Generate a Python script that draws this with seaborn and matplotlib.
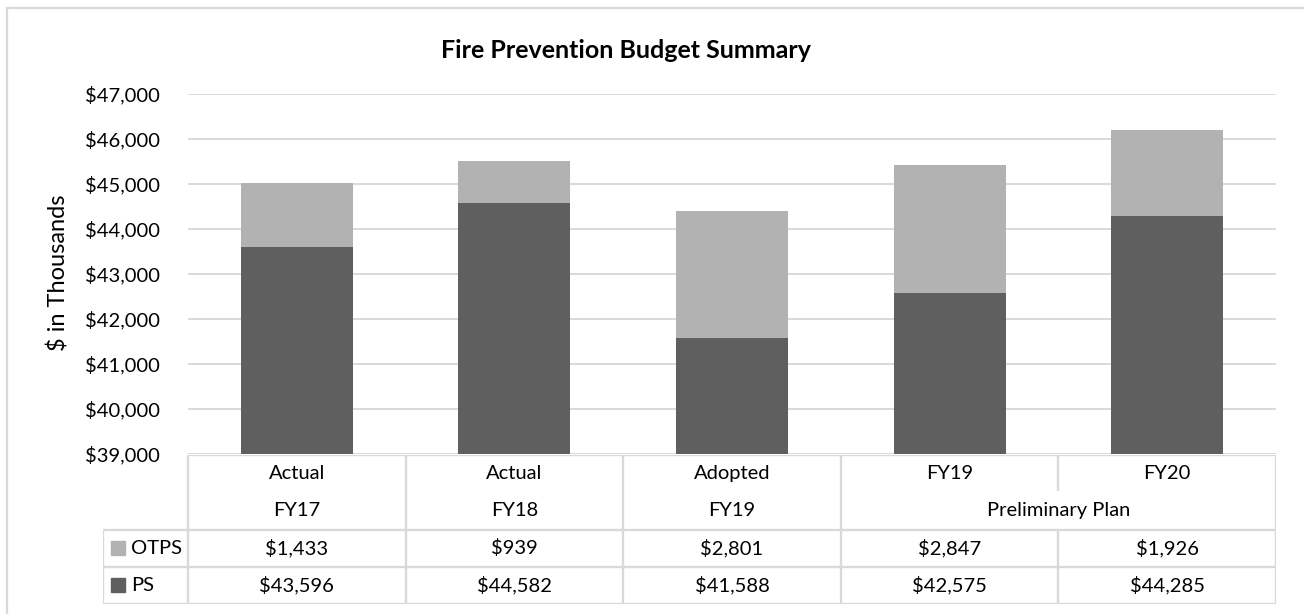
import matplotlib
matplotlib.use("Agg")
import matplotlib.pyplot as plt
import seaborn as sns
import pandas as pd
from matplotlib.patches import Rectangle

# ---- data ----
header_line1 = ["Actual", "Actual", "Adopted", "FY19", "FY20"]
header_line2 = ["FY17", "FY18", "FY19", "", ""]
span_label = "Preliminary Plan"
categories = ["Actual FY17", "Actual FY18", "Adopted FY19", "Plan FY19", "Plan FY20"]
otps = [1433, 939, 2801, 2847, 1926]
ps = [43596, 44582, 41588, 42575, 44285]
series_names = ["OTPS", "PS"]
y_ticks = [39000, 40000, 41000, 42000, 43000, 44000, 45000, 46000, 47000]

title = "Fire Prevention Budget Summary"
ylabel = "$ in Thousands"

# ---- style ----
sns.set_theme(style="white")
plt.rcParams['font.family'] = ['Lato', 'DejaVu Sans']
DARK = "#5f5f5f"
LIGHT = "#b2b2b2"
GRID = "#d9d9d9"
FS = 14.5

W, H = 1304, 614
fig = plt.figure(figsize=(W / 100, H / 100), dpi=100)

def px_axes(x0, y0, x1, y1):
    return fig.add_axes([x0 / W, 1 - y1 / H, (x1 - x0) / W, (y1 - y0) / H])

df = pd.DataFrame({"cat": categories, "ps": ps, "otps": otps})
df["total"] = df["ps"] + df["otps"]

ax = px_axes(188, 94, 1276, 454)
sns.barplot(data=df, x="cat", y="total", color=LIGHT, width=0.515, ax=ax,
            saturation=1, edgecolor="none", zorder=2)
sns.barplot(data=df, x="cat", y="ps", color=DARK, width=0.515, ax=ax,
            saturation=1, edgecolor="none", zorder=3)
ax.set_xlim(-0.5, len(categories) - 0.5)
ax.set_ylim(y_ticks[0], y_ticks[-1])
ax.set_yticks(y_ticks)
ax.set_yticklabels([f"${v:,.0f}" for v in y_ticks], fontsize=FS, color="black")
ax.tick_params(axis="y", length=0, pad=20)
ax.set_xticks([])
ax.set_xlabel("")
ax.set_ylabel("")
for s in ax.spines.values():
    s.set_visible(False)
ax.yaxis.grid(True, color=GRID, linewidth=1.4, zorder=0)
ax.set_axisbelow(True)

fig.text(58 / W, 1 - 273 / H, ylabel, rotation=90, ha="center", va="center",
         fontsize=17, color="black")
fig.text(626 / W, 1 - 50 / H, title, ha="center", va="center",
         fontsize=18, fontweight="bold", color="black")

# ---- data table ----
n = len(categories)
cw = 217.6
left_extra = (188 - 103) / cw
tx = px_axes(103, 455, 1276, 604)
tx.set_xlim(-0.5 - left_extra, n - 0.5)
tx.set_ylim(4, 0)
tx.axis("off")
lk = dict(color=GRID, linewidth=1.7, solid_capstyle="butt")
xl = -0.5 - left_extra
tx.plot([-0.5, n - 0.5], [0, 0], **lk)
for yy in (2, 3, 4):
    tx.plot([xl, n - 0.5], [yy, yy], **lk)
tx.plot([xl, xl], [2, 4], **lk)
for i in range(n + 1):
    xx = i - 0.5
    if i == 4:
        tx.plot([xx, xx], [0, 0.97], **lk)
        tx.plot([xx, xx], [2, 4], **lk)
    else:
        tx.plot([xx, xx], [0, 4], **lk)

for i in range(n):
    tx.text(i, 0.5, header_line1[i], ha="center", va="center", fontsize=FS, color="black")
    if header_line2[i]:
        tx.text(i, 1.5, header_line2[i], ha="center", va="center", fontsize=FS, color="black")
    tx.text(i, 2.5, f"${otps[i]:,}", ha="center", va="center", fontsize=FS, color="black")
    tx.text(i, 3.5, f"${ps[i]:,}", ha="center", va="center", fontsize=FS, color="black")
tx.text(3.5, 1.5, span_label, ha="center", va="center", fontsize=FS, color="black")

for row, name, col in ((2.5, series_names[0], LIGHT), (3.5, series_names[1], DARK)):
    tx.plot([xl + 15 / cw], [row], marker="s", markersize=10, color=col, linestyle="none")
    tx.text(xl + 28 / cw, row, name, ha="left", va="center", fontsize=FS, color="black")

# outer chart border
fig.patches.append(Rectangle((7 / W, -0.1), 1.2, 1 - 8 / H + 0.1, transform=fig.transFigure,
                             fill=False, edgecolor=GRID, linewidth=1.6))

fig.savefig("out.png", dpi=100, facecolor="white")
